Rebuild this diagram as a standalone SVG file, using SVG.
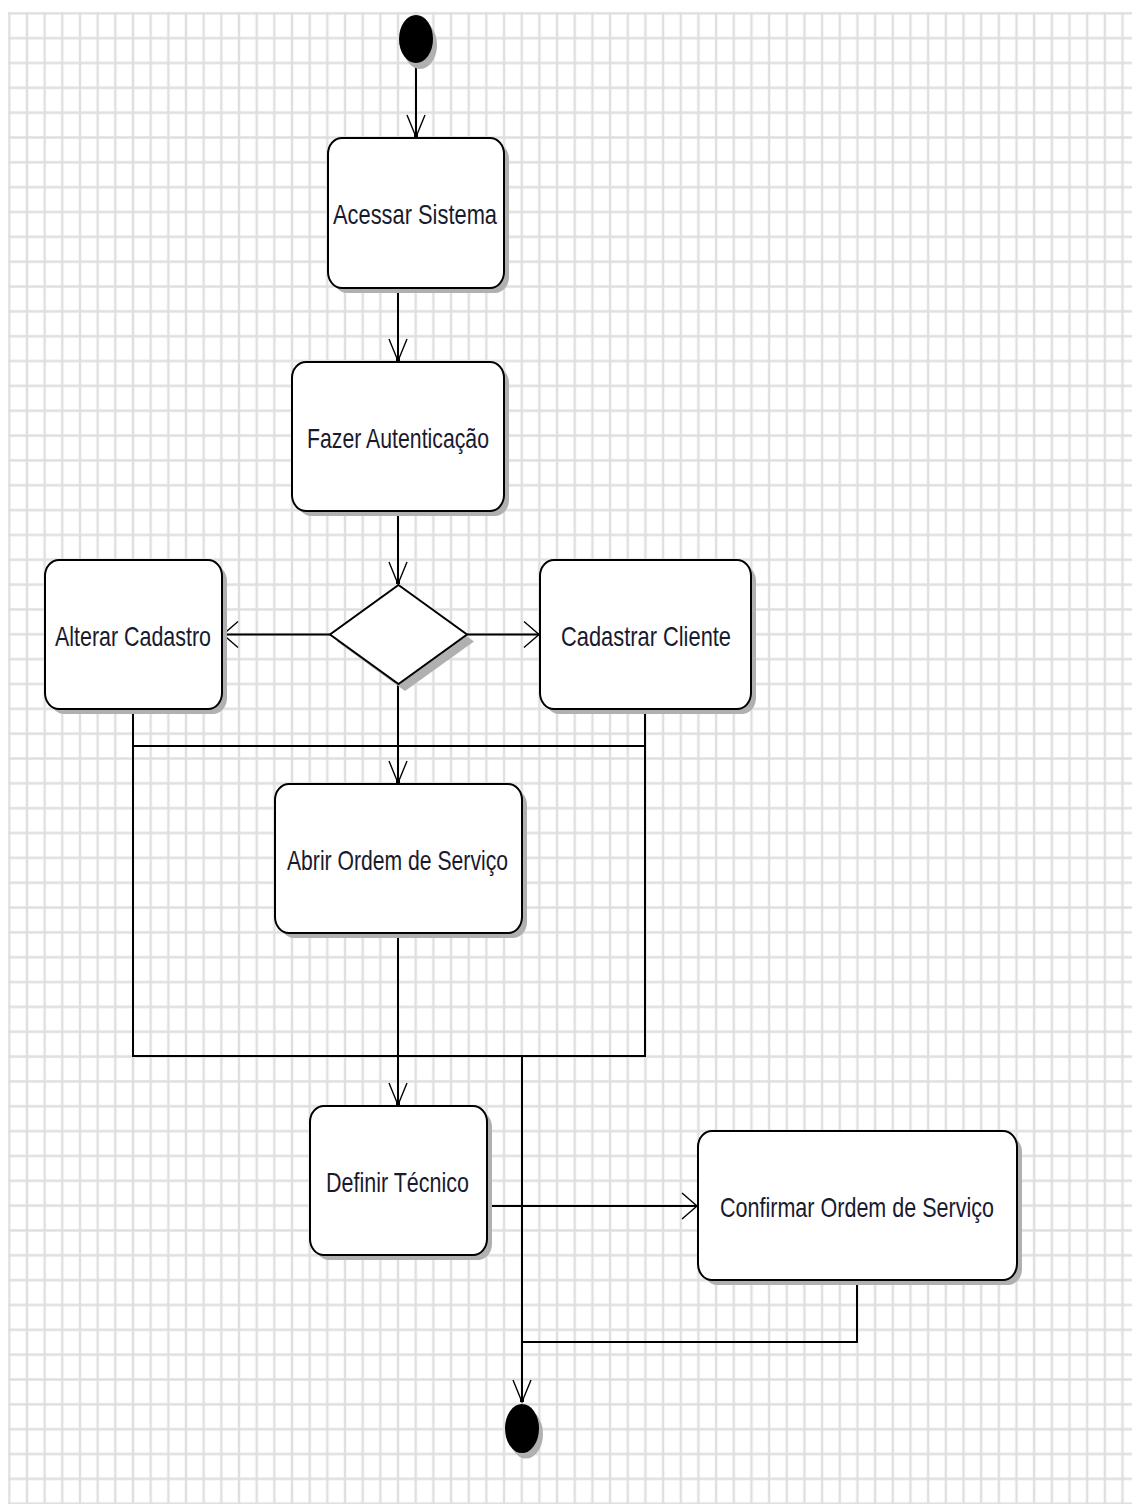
<svg xmlns="http://www.w3.org/2000/svg" width="1132" height="1504" viewBox="0 0 1132 1504">
<style>
.box{fill:#ffffff;stroke:#000000;stroke-width:2}
.shadow{fill:#b0b0b0}
.lbl{font-family:"Liberation Sans",Arial,sans-serif;font-size:28px;fill:#1a1a2e;text-anchor:middle}
.conn{fill:none;stroke:#000000;stroke-width:2}
</style>
<defs>
<pattern id="grid" x="0.465" y="0.88" width="17.67" height="24.84" patternUnits="userSpaceOnUse">
<path d="M8.835,0 V24.84 M0,12.42 H17.67" stroke="#dfdfdf" stroke-width="2.4" fill="none"/>
</pattern>
<marker id="arrV" markerUnits="userSpaceOnUse" markerWidth="30" markerHeight="30" viewBox="-25 -15 30 30" refX="0" refY="0" orient="auto">
<path d="M-22,-9 L0,0 L-22,9" fill="none" stroke="#000" stroke-width="1.4"/>
<rect x="-3" y="-2" width="3" height="4" fill="#000"/>
</marker>
<marker id="arrH" markerUnits="userSpaceOnUse" markerWidth="30" markerHeight="34" viewBox="-20 -17 24 34" refX="0" refY="0" orient="auto">
<path d="M-15,-13 L0,0 L-15,13" fill="none" stroke="#000" stroke-width="1.4"/>
</marker>
</defs>
<rect x="0" y="0" width="1132" height="1504" fill="#ffffff"/>
<rect x="8" y="12" width="1124" height="1492" fill="url(#grid)"/>

<g id="connectors">
<path class="conn" d="M416,63 V137" marker-end="url(#arrV)"/>
<path class="conn" d="M398,288 V361" marker-end="url(#arrV)"/>
<path class="conn" d="M398,511 V584" marker-end="url(#arrV)"/>
<path class="conn" d="M330,634.5 H223" marker-end="url(#arrH)"/>
<path class="conn" d="M467,634.5 H539" marker-end="url(#arrH)"/>
<path class="conn" d="M398,684 V783" marker-end="url(#arrV)"/>
<path class="conn" d="M133,709 V1056 H645 V709"/>
<path class="conn" d="M133,746 H645"/>
<path class="conn" d="M398,933 V1105" marker-end="url(#arrV)"/>
<path class="conn" d="M522,1056 V1402" marker-end="url(#arrV)"/>
<path class="conn" d="M487,1206 H697" marker-end="url(#arrH)"/>
<path class="conn" d="M857,1280 V1342 H522"/>
</g>

<g id="start">
<ellipse class="shadow" cx="420" cy="45" rx="17" ry="24"/>
<ellipse cx="416" cy="39" rx="17" ry="24" fill="#000"/>
</g>

<g id="acessar-sistema">
<rect class="shadow" x="333" y="143" width="176" height="150" rx="14" ry="16"/>
<rect class="box" x="328" y="138" width="176" height="150" rx="14" ry="16"/>
<text class="lbl" x="415" y="224" textLength="164" lengthAdjust="spacingAndGlyphs">Acessar Sistema</text>
</g>

<g id="fazer-autenticacao">
<rect class="shadow" x="297" y="367" width="212" height="149" rx="14" ry="16"/>
<rect class="box" x="292" y="362" width="212" height="149" rx="14" ry="16"/>
<text class="lbl" x="398" y="448" textLength="182" lengthAdjust="spacingAndGlyphs">Fazer Autenticação</text>
</g>

<g id="decisao">
<polygon class="shadow" points="405,592 474,641.5 405,691 337,641.5"/>
<polygon class="box" points="398.5,585 467,634.5 398.5,684 330,634.5"/>
</g>

<g id="alterar-cadastro">
<rect class="shadow" x="50" y="565" width="177" height="149" rx="14" ry="16"/>
<rect class="box" x="45" y="560" width="177" height="149" rx="14" ry="16"/>
<text class="lbl" x="133" y="645.5" textLength="156" lengthAdjust="spacingAndGlyphs">Alterar Cadastro</text>
</g>

<g id="cadastrar-cliente">
<rect class="shadow" x="545" y="565" width="211" height="149" rx="14" ry="16"/>
<rect class="box" x="540" y="560" width="211" height="149" rx="14" ry="16"/>
<text class="lbl" x="646" y="645.5" textLength="170" lengthAdjust="spacingAndGlyphs">Cadastrar Cliente</text>
</g>

<g id="abrir-ordem">
<rect class="shadow" x="280" y="789" width="247" height="149" rx="14" ry="16"/>
<rect class="box" x="275" y="784" width="247" height="149" rx="14" ry="16"/>
<text class="lbl" x="397.5" y="869.5" textLength="221" lengthAdjust="spacingAndGlyphs">Abrir Ordem de Serviço</text>
</g>

<g id="definir-tecnico">
<rect class="shadow" x="315" y="1111" width="177" height="149" rx="14" ry="16"/>
<rect class="box" x="310" y="1106" width="177" height="149" rx="14" ry="16"/>
<text class="lbl" x="397.5" y="1191.5" textLength="143" lengthAdjust="spacingAndGlyphs">Definir Técnico</text>
</g>

<g id="confirmar-ordem">
<rect class="shadow" x="703" y="1136" width="319" height="149" rx="14" ry="16"/>
<rect class="box" x="698" y="1131" width="319" height="149" rx="14" ry="16"/>
<text class="lbl" x="857" y="1216.5" textLength="274" lengthAdjust="spacingAndGlyphs">Confirmar Ordem de Serviço</text>
</g>

<g id="end">
<ellipse class="shadow" cx="526" cy="1434" rx="17" ry="24.5"/>
<ellipse cx="522" cy="1428.5" rx="17" ry="24.5" fill="#000"/>
</g>
</svg>
